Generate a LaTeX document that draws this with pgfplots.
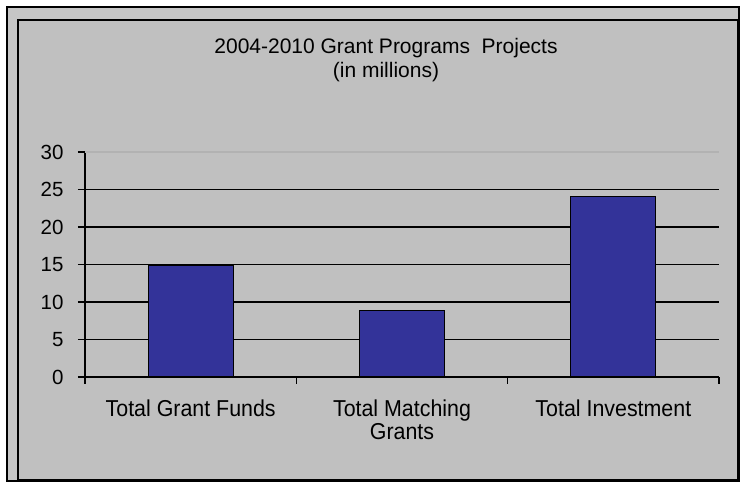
\documentclass[border=0pt]{standalone}
\usepackage{pgfplots}
\pgfplotsset{compat=1.18}
\usepackage{fontspec}
\setmainfont{Liberation Sans}
\newfontfamily\narrowfont{Liberation Sans}[FakeStretch=0.93]
\definecolor{barblue}{RGB}{51,51,153}
\definecolor{bggray}{RGB}{192,192,192}
\definecolor{bandgray}{RGB}{198,198,198}
\begin{document}
\begin{tikzpicture}[x=1pt,y=1pt]
\fill[white] (0,0) rectangle (740,485);
\draw[line width=2pt, fill=bandgray] (7,478) rectangle (739,4);
\draw[line width=2.5pt, fill=bggray] (18,465) rectangle (738,5);
\node[anchor=base, inner sep=0pt, font=\fontsize{21}{25}\selectfont] at (386,431) {2004-2010 Grant Programs\ \ Projects};
\node[anchor=base, inner sep=0pt, font=\fontsize{21}{25}\selectfont] at (386,407) {(in millions)};
\begin{axis}[
  at={(85pt,108pt)}, anchor=south west,
  scale only axis, width=634pt, height=225pt,
  xmin=0.5, xmax=3.5, ymin=0, ymax=30,
  axis lines=left,
  axis line style={-, line width=1.3pt, black},
  ytick={0,5,...,25},
  extra y ticks={30},
  extra y tick style={grid style={gray!60!white, line width=1.2pt}},
  ymajorgrids,
  grid style={black, line width=1.4pt},
  xtick={0.5,1.5,2.5,3.5},
  xticklabels={},
  extra x ticks={1,2,3},
  extra x tick labels={Total Grant Funds,{Total Matching\\Grants},Total Investment},
  extra x tick style={major tick length=0pt},
  tick align=outside,
  major tick length=7pt,
  tick style={black, line width=1.3pt},
  /pgf/number format/assume math mode=true,
  yticklabel style={font=\fontsize{20.5}{24}\selectfont, xshift=-11pt},
  xticklabel style={font=\narrowfont\fontsize{23}{23}\selectfont, align=center, yshift=-19pt},
]
\addplot[ybar, bar width=85pt, fill=barblue, draw=black, line width=1.3pt] coordinates {(1,14.85) (2,8.9) (3,24.05)};
\end{axis}
\pgfresetboundingbox
\path (0,0) rectangle (740,485);
\end{tikzpicture}
\end{document}
